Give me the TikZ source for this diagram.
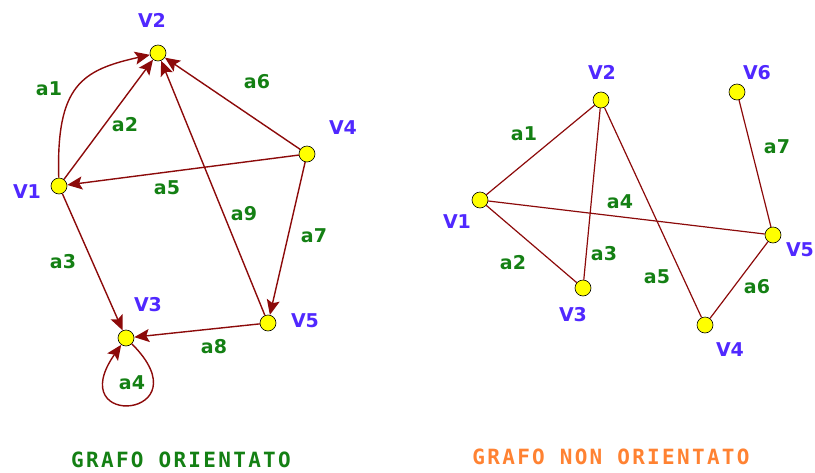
\documentclass[tikz,border=0pt]{standalone}
\usepackage{fontspec}
\usepackage{xcolor}
\usepackage{tikz}
\usetikzlibrary{arrows.meta}
\newfontfamily\lblfont{DejaVu Sans}
\newfontfamily\titlefont[LetterSpace=11]{DejaVu Sans Mono}
\definecolor{arcRed}{RGB}{140,10,10}
\definecolor{vertYellow}{RGB}{255,255,0}
\definecolor{vertBlue}{RGB}{80,40,255}
\definecolor{labGreen}{RGB}{20,128,20}
\definecolor{titleOrange}{RGB}{255,130,50}

\begin{document}
\begin{tikzpicture}[
    x=1pt, y=1pt,
    every node/.style={font=\lblfont\bfseries\fontsize{19}{19}\selectfont},
    vert/.style={circle, draw=black, fill=vertYellow, line width=0.6pt,
                 minimum size=16pt, inner sep=0pt},
    vname/.style={text=vertBlue},
    aname/.style={text=labGreen},
    darc/.style={draw=arcRed, line width=1.4pt,
                 -{Stealth[length=15pt, width=13pt, inset=3pt]}},
    uarc/.style={draw=arcRed, line width=1.2pt},
    ttl/.style={font=\titlefont\bfseries\fontsize{21}{21}\selectfont, inner sep=1pt},
    >=Stealth
  ]
  \useasboundingbox (0,0) rectangle (815,-472);

  % ── Directed graph (left) ───────────────────────────────────────────────
  \begin{scope}
    % Vertices
    \node[vert] (l1) at (59,-186)  {};
    \node[vert] (l2) at (158,-53)  {};
    \node[vert] (l3) at (126,-338) {};
    \node[vert] (l4) at (307,-154) {};
    \node[vert] (l5) at (268,-323) {};
    \node[vname] (l1n) at (27,-192)  {V1};
    \node[vname] (l2n) at (152,-20)  {V2};
    \node[vname] (l3n) at (148,-305) {V3};
    \node[vname] (l4n) at (343,-128) {V4};
    \node[vname] (l5n) at (305,-321) {V5};

    % Arcs
    \draw[darc] (l1) .. controls (56,-85) and (82,-70) .. (l2);
    \draw[darc] (l1) -- (l2);
    \draw[darc] (l1) -- (l3);
    \draw[darc] (l3) to[out=-45, in=-125, distance=105pt] (l3);
    \draw[darc] (l4) -- (l1);
    \draw[darc] (l4) -- (l2);
    \draw[darc] (l4) -- (l5);
    \draw[darc] (l5) -- (l3);
    \draw[darc] (l5) -- (l2);

    \node[aname] (la1) at (49,-89)   {a1};
    \node[aname] (la2) at (125,-125) {a2};
    \node[aname] (la3) at (63,-262)  {a3};
    \node[aname] (la4) at (132,-383) {a4};
    \node[aname] (la5) at (167,-188) {a5};
    \node[aname] (la6) at (257,-82)  {a6};
    \node[aname] (la7) at (314,-236) {a7};
    \node[aname] (la8) at (214,-347) {a8};
    \node[aname] (la9) at (244,-214) {a9};

    \node[ttl, text=labGreen] (ltitle) at (181,-460) {GRAFO ORIENTATO};
  \end{scope}

  % ── Undirected graph (right) ────────────────────────────────────────────
  \begin{scope}
    % Vertices
    \node[vert] (r1) at (480,-200) {};
    \node[vert] (r2) at (601,-100) {};
    \node[vert] (r3) at (583,-288) {};
    \node[vert] (r4) at (705,-325) {};
    \node[vert] (r5) at (773,-235) {};
    \node[vert] (r6) at (737,-92)  {};
    \node[vname] (r1n) at (457,-222) {V1};
    \node[vname] (r2n) at (602,-72)  {V2};
    \node[vname] (r3n) at (573,-315) {V3};
    \node[vname] (r4n) at (730,-350) {V4};
    \node[vname] (r5n) at (800,-250) {V5};
    \node[vname] (r6n) at (757,-73)  {V6};

    % Edges
    \draw[uarc] (r1) -- (r2);
    \draw[uarc] (r1) -- (r3);
    \draw[uarc] (r2) -- (r3);
    \draw[uarc] (r1) -- (r5);
    \draw[uarc] (r2) -- (r4);
    \draw[uarc] (r4) -- (r5);
    \draw[uarc] (r6) -- (r5);

    \node[aname] (ra1) at (524,-134) {a1};
    \node[aname] (ra2) at (513,-263) {a2};
    \node[aname] (ra3) at (604,-254) {a3};
    \node[aname] (ra4) at (620,-202) {a4};
    \node[aname] (ra5) at (657,-277) {a5};
    \node[aname] (ra6) at (757,-287) {a6};
    \node[aname] (ra7) at (777,-147) {a7};

    \node[ttl, text=titleOrange] (rtitle) at (611,-457) {GRAFO NON ORIENTATO};
  \end{scope}

\end{tikzpicture}
\end{document}
